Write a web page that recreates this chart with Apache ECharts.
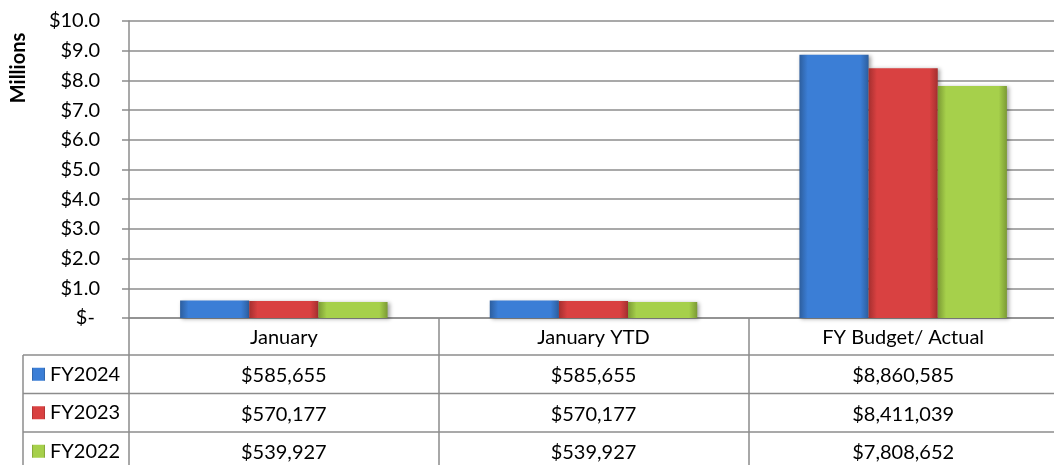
<!DOCTYPE html>
<html>
<head>
<meta charset="utf-8">
<script src="https://cdn.jsdelivr.net/npm/echarts@6/dist/echarts.min.js"></script>
<style>
    html, body { margin: 0; padding: 0; background: #fff; }
    #chart { width: 1054px; height: 465px; }
</style>
</head>
<body>
<div id="chart"></div>
<script>
var categories = ['January', 'January YTD', 'FY Budget/ Actual'];
var seriesNames = ['FY2024', 'FY2023', 'FY2022'];
var fy2024 = [585655, 585655, 8860585];
var fy2023 = [570177, 570177, 8411039];
var fy2022 = [539927, 539927, 7808652];
var yMin = 0, yMax = 10, yStep = 1;   // millions

var rows = [fy2024, fy2023, fy2022];
var colors = [
    ['#2d5e9e', '#3b7ed6'],
    ['#a52f2f', '#d94141'],
    ['#7b9a34', '#a6d04b']
];
var font = 'Lato';
var gray = '#8c8c8c';
var rowH = 38.5;
var tableTop = 355;

function money(v) {
    return '$' + v.toLocaleString('en-US');
}

function barColor(c) {
    return new echarts.graphic.LinearGradient(0, 0, 1, 0, [
        {offset: 0, color: c[0]},
        {offset: 0.12, color: c[1]},
        {offset: 0.88, color: c[1]},
        {offset: 1, color: c[0]}
    ]);
}

function init() {
    let series = rows.map(function (r, i) {
        return {
            name: seriesNames[i],
            type: 'bar',
            barGap: 0,
            barCategoryGap: '33%',
            itemStyle: {
                color: barColor(colors[i]),
                shadowColor: 'rgba(0,0,0,0.35)',
                shadowBlur: 4,
                shadowOffsetX: 2,
                shadowOffsetY: 1
            },
            data: r.map(function (v) { return v / 1e6; })
        };
    });

    // table lines left of / across the data columns
    let lines = [];
    for (let k = 0; k < 3; k++) {
        let y = tableTop + k * rowH;
        lines.push({type: 'line', shape: {x1: 23, y1: y, x2: 1054, y2: y}, style: {stroke: gray, lineWidth: 1.5}});
    }
    lines.push({type: 'line', shape: {x1: 23, y1: tableTop, x2: 23, y2: 465}, style: {stroke: gray, lineWidth: 1.5}});
    lines.push({
        type: 'text', x: 19, y: 68, rotation: Math.PI / 2,
        style: {text: 'Millions', font: 'bold 20px ' + font, fill: '#000', align: 'center', verticalAlign: 'middle'}
    });

    let option = {
        animation: false,
        textStyle: {fontFamily: font},
        grid: {left: 129, right: -4, top: 21, bottom: 147, outerBoundsMode: 'none'},
        legend: {
            orient: 'vertical',
            left: 32,
            top: tableTop + (rowH - 20) / 2,
            padding: 0,
            height: 110,
            itemGap: rowH - 20,
            itemWidth: 13,
            itemHeight: 13,
            icon: 'rect',
            data: seriesNames,
            textStyle: {fontSize: 20, color: '#000', lineHeight: 20, fontFamily: font}
        },
        xAxis: {
            type: 'category',
            data: categories,
            axisLine: {lineStyle: {color: gray, width: 1.5}},
            axisTick: {show: true, length: 147, lineStyle: {color: gray, width: 1.5}},
            axisLabel: {
                margin: 0,
                interval: 0,
                fontSize: 20,
                color: '#000',
                lineHeight: rowH,
                formatter: function (v, idx) {
                    return [v].concat(rows.map(function (r) { return money(r[idx]); })).join('\n');
                }
            }
        },
        yAxis: {
            type: 'value',
            min: yMin,
            max: yMax,
            interval: yStep,
            axisLine: {show: true, lineStyle: {color: gray, width: 1.5}},
            axisTick: {show: true, length: 7, lineStyle: {color: gray, width: 1.5}},
            splitLine: {lineStyle: {color: gray, width: 1.5}},
            axisLabel: {
                margin: 29,
                fontSize: 20,
                color: '#000',
                formatter: function (v) {
                    return v === 0 ? '$- ' : '$' + v.toFixed(1);
                }
            }
        },
        graphic: lines,
        series: series
    };

    let chart = echarts.init(document.getElementById('chart'));
    chart.setOption(option);
}

init();
</script>
</body>
</html>
